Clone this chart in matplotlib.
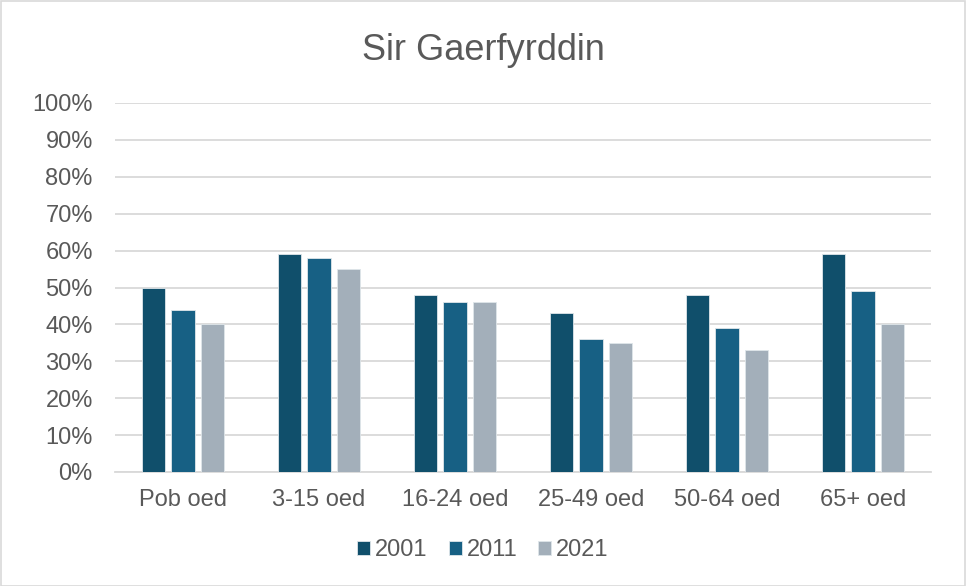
import matplotlib
matplotlib.use("Agg")
import matplotlib.pyplot as plt
import numpy as np
from matplotlib.patches import Rectangle
from matplotlib.ticker import PercentFormatter

plt.rcParams["font.family"] = ["Liberation Sans", "DejaVu Sans"]

categories = ["Pob oed", "3-15 oed", "16-24 oed", "25-49 oed", "50-64 oed", "65+ oed"]
years = ["2001", "2011", "2021"]
values_2001 = [50, 59, 48, 43, 48, 59]
values_2011 = [44, 58, 46, 36, 39, 49]
values_2021 = [40, 55, 46, 35, 33, 40]
colors = ["#104F6B", "#176084", "#A3AFBA"]
text_col = "#595959"

fig = plt.figure(figsize=(9.66, 5.86), dpi=100)
ax = fig.add_axes([115 / 966, 1 - 472 / 586, (931 - 115) / 966, (472 - 103) / 586])

x = np.arange(len(categories))
width = 0.17
step = 0.22
for i, (vals, lab) in enumerate(zip([values_2001, values_2011, values_2021], years)):
    ax.bar(x + (i - 1) * step, vals, width, color=colors[i], label=lab,
           edgecolor="#dfe6ea", linewidth=0.6, zorder=3)

ax.set_xlim(-0.5, len(categories) - 0.5)
ax.set_ylim(0, 100)
ax.set_yticks(np.arange(0, 101, 10))
ax.yaxis.set_major_formatter(PercentFormatter(decimals=0))
ax.set_xticks(x)
ax.set_xticklabels(categories)
ax.tick_params(axis="both", length=0, labelsize=17, colors=text_col)
ax.tick_params(axis="x", pad=12)
ax.tick_params(axis="y", pad=16)
ax.grid(axis="y", color="#d9d9d9", linewidth=1.3, zorder=0)
for s in ["top", "right", "left"]:
    ax.spines[s].set_visible(False)
ax.spines["bottom"].set_color("#d9d9d9")
ax.spines["bottom"].set_linewidth(1.3)

fig.text(0.5, 1 - 51 / 586, "Sir Gaerfyrddin", ha="center", va="center",
         fontsize=26, color=text_col)

leg = fig.legend(loc="center", bbox_to_anchor=(0.5, 1 - 550 / 586), ncol=3,
                 frameon=False, fontsize=17, handlelength=0.55, handleheight=0.55,
                 handletextpad=0.2, columnspacing=0.9)
for t in leg.get_texts():
    t.set_color(text_col)

fig.patches.append(Rectangle((0.5 / 966, 0.5 / 586), 1 - 1.5 / 966, 1 - 1.5 / 586,
                             transform=fig.transFigure, fill=False,
                             edgecolor="#d9d9d9", linewidth=1.2))

fig.savefig("out.png", dpi=100)
